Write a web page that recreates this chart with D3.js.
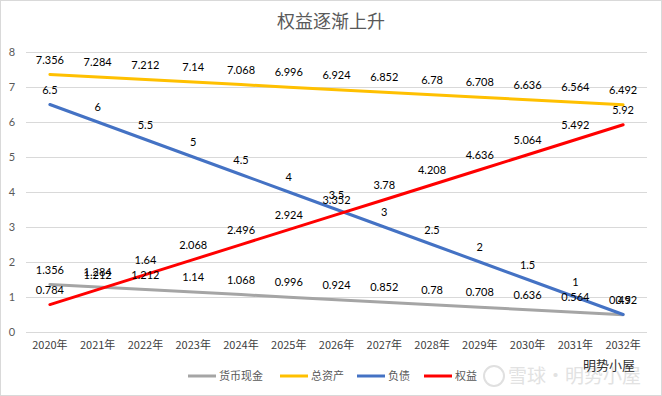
<!DOCTYPE html>
<html>
<head>
<meta charset="utf-8">
<script src="https://cdn.jsdelivr.net/npm/d3@7"></script>
<style>
  body { margin: 0; background: #fff; }
  svg { display: block; }
</style>
</head>
<body>
<svg id="chart" width="662" height="396"></svg>
<script>
var years = ["2020年", "2021年", "2022年", "2023年", "2024年", "2025年", "2026年",
             "2027年", "2028年", "2029年", "2030年", "2031年", "2032年"];
var cash = [1.356, 1.284, 1.212, 1.14, 1.068, 0.996, 0.924, 0.852, 0.78, 0.708, 0.636, 0.564, 0.492];
var assets = [7.356, 7.284, 7.212, 7.14, 7.068, 6.996, 6.924, 6.852, 6.78, 6.708, 6.636, 6.564, 6.492];
var debt = [6.5, 6, 5.5, 5, 4.5, 4, 3.5, 3, 2.5, 2, 1.5, 1, 0.5];
var equity = [0.784, 1.212, 1.64, 2.068, 2.496, 2.924, 3.352, 3.78, 4.208, 4.636, 5.064, 5.492, 5.92];
var yTicks = [0, 1, 2, 3, 4, 5, 6, 7, 8];

var series = [
    {name: "货币现金", values: cash, color: "#A5A5A5"},
    {name: "总资产", values: assets, color: "#FFC000"},
    {name: "负债", values: debt, color: "#4472C4"},
    {name: "权益", values: equity, color: "#FF0000"}
];

var numFont = "Lato, 'Noto Sans CJK SC', sans-serif";
var cjkFont = "'Noto Sans CJK SC', sans-serif";

var svg = d3.select("#chart");
var width = 662, height = 396;

// outer border
svg.append("rect")
    .attr("x", 0.5).attr("y", 0.5)
    .attr("width", width - 1).attr("height", height - 1)
    .attr("fill", "#fff")
    .attr("stroke", "#d9d9d9");

var x = d3.scaleBand()
    .domain(years)
    .range([26, 647]);

var y = d3.scaleLinear()
    .domain([0, 8])
    .range([332, 52]);

// gridlines
svg.append("g")
    .selectAll("line")
    .data(yTicks)
    .enter()
    .append("line")
    .attr("x1", 26)
    .attr("x2", 647)
    .attr("y1", function (d) { return Math.round(y(d)) + 0.5; })
    .attr("y2", function (d) { return Math.round(y(d)) + 0.5; })
    .attr("stroke", "#d9d9d9")
    .attr("stroke-width", 1);

// y axis labels
var yAxis = svg.append("g")
    .attr("transform", "translate(16,0)")
    .call(d3.axisLeft(y).tickValues(yTicks).tickSize(0).tickPadding(0).tickFormat(d3.format("d")));
yAxis.select(".domain").remove();
yAxis.selectAll("text")
    .attr("text-anchor", "middle")
    .attr("x", -4)
    .style("font-family", numFont)
    .style("font-size", "11px")
    .attr("fill", "#595959");

// x axis labels
var xAxis = svg.append("g")
    .attr("transform", "translate(0,341)")
    .call(d3.axisBottom(x).tickSize(0).tickPadding(0));
xAxis.select(".domain").remove();
xAxis.selectAll("text")
    .style("font-family", cjkFont)
    .style("font-size", "11px")
    .attr("fill", "#404040");

// lines
var line = d3.line()
    .x(function (d, i) { return x(years[i]) + x.bandwidth() / 2; })
    .y(function (d) { return y(d); });

svg.append("g")
    .selectAll("path")
    .data(series)
    .enter()
    .append("path")
    .attr("d", function (d) { return line(d.values); })
    .attr("fill", "none")
    .attr("stroke", function (d) { return d.color; })
    .attr("stroke-width", 3)
    .attr("stroke-linecap", "round");

// data labels
series.forEach(function (s) {
    svg.append("g")
        .selectAll("text")
        .data(s.values)
        .enter()
        .append("text")
        .attr("x", function (d, i) { return x(years[i]) + x.bandwidth() / 2; })
        .attr("y", function (d) { return y(d) - 11; })
        .attr("text-anchor", "middle")
        .style("font-family", numFont)
        .style("font-size", "11px")
        .attr("fill", "#000")
        .text(function (d) { return d; });
});

// title
svg.append("text")
    .attr("x", 331)
    .attr("y", 28)
    .attr("text-anchor", "middle")
    .style("font-family", cjkFont)
    .style("font-size", "18px")
    .attr("fill", "#595959")
    .text("权益逐渐上升");

// legend
var legendX = [188, 280, 357, 424];
var legend = svg.append("g")
    .selectAll("g")
    .data(series)
    .enter()
    .append("g")
    .attr("transform", function (d, i) { return "translate(" + legendX[i] + ",376)"; });
legend.append("line")
    .attr("x1", 0).attr("x2", 28)
    .attr("y1", 0).attr("y2", 0)
    .attr("stroke", function (d) { return d.color; })
    .attr("stroke-width", 3);
legend.append("text")
    .attr("x", 31)
    .attr("y", 4)
    .style("font-family", cjkFont)
    .style("font-size", "11px")
    .attr("fill", "#595959")
    .text(function (d) { return d.name; });

// watermark
svg.append("circle")
    .attr("cx", 494).attr("cy", 376).attr("r", 10)
    .attr("fill", "none").attr("stroke", "#e0e0e0").attr("stroke-width", 2);
svg.append("text")
    .attr("x", 508)
    .attr("y", 383)
    .style("font-family", cjkFont)
    .style("font-size", "19px")
    .attr("fill", "#e2e2e2")
    .text("雪球·明势小屋");
svg.append("text")
    .attr("x", 583)
    .attr("y", 370)
    .style("font-family", cjkFont)
    .style("font-size", "13px")
    .attr("fill", "#333")
    .text("明势小屋");
</script>
</body>
</html>
